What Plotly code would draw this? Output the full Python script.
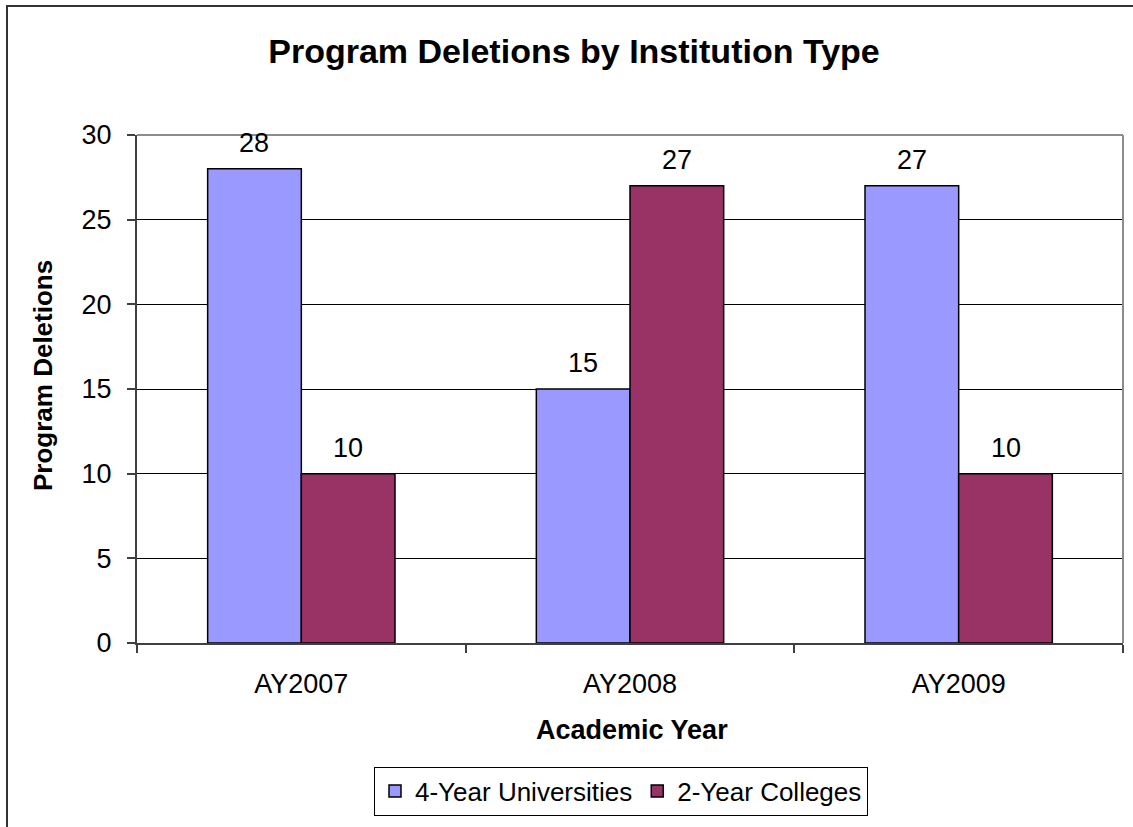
import plotly.graph_objects as go

years = ["AY2007", "AY2008", "AY2009"]
universities = [28, 15, 27]
colleges = [10, 27, 10]
series_names = ["4-Year Universities", "2-Year Colleges"]
y_ticks = [0, 5, 10, 15, 20, 25, 30]

W, H = 1133, 827
L, R, T, B = 137, 10, 135, 184
pw, ph = W - L - R, H - T - B
BARGAP = 0.43

def px_x(x):
    return (x - L) / pw

def px_y(y):
    return (H - B - y) / ph

FONT = "Liberation Sans, Arial, sans-serif"
colors = ["#9999FF", "#993366"]

fig = go.Figure()
for name, vals, col in zip(series_names, [universities, colleges], colors):
    fig.add_trace(go.Bar(
        x=years, y=vals, name=name,
        marker=dict(color=col, line=dict(color="#000000", width=1.5)),
        cliponaxis=False,
    ))

# data labels anchored on data coordinates
bar_w = pw / len(years) * (1 - BARGAP) / 2
for i, vals in enumerate([universities, colleges]):
    shift = (i - 0.5) * bar_w
    for yr, v in zip(years, vals):
        fig.add_annotation(x=yr, y=v, xref="x", yref="y", text=str(v),
                           showarrow=False, xshift=shift, yshift=26,
                           xanchor="center", yanchor="middle",
                           font=dict(size=27, family=FONT, color="#000000"))

fig.update_layout(
    width=W, height=H,
    margin=dict(l=L, r=R, t=T, b=B),
    paper_bgcolor="white", plot_bgcolor="white",
    barmode="group", bargap=BARGAP, bargroupgap=0,
    font=dict(family=FONT, size=27, color="#000000"),
    title=dict(text="<b>Program Deletions by Institution Type</b>",
               x=574 / W, xref="container", xanchor="center",
               y=1 - 51 / H, yref="container", yanchor="middle",
               font=dict(size=34, family=FONT, color="#000000")),
    showlegend=True,
    legend=dict(orientation="h", x=px_x(621), xanchor="center",
                y=px_y(791), yanchor="middle",
                bordercolor="#000000", borderwidth=1,
                font=dict(size=26, family=FONT, color="#000000"),
                itemwidth=30, tracegroupgap=0),
)

fig.update_xaxes(
    type="category", tickson="boundaries", ticks="outside", ticklen=8,
    tickcolor="#404040", tickwidth=1.5,
    showline=True, linecolor="#404040", linewidth=2,
    showgrid=False, tickfont=dict(size=27, family=FONT, color="#000000"),
    ticklabelstandoff=16,
)
fig.update_yaxes(
    range=[0, 30], tickvals=y_ticks, ticks="outside", ticklen=8,
    tickcolor="#404040", tickwidth=1.5,
    showline=True, linecolor="#404040", linewidth=2,
    showgrid=True, gridcolor="#000000", gridwidth=1, zeroline=False,
    tickfont=dict(size=27, family=FONT, color="#000000"), ticklabelstandoff=10,
)

# Plot-area border (grey) and outer chart border
fig.add_shape(type="line", xref="paper", yref="paper", x0=0, x1=1, y0=1, y1=1,
              line=dict(color="#8C8C8C", width=2), layer="above")
fig.add_shape(type="line", xref="paper", yref="paper", x0=1, x1=1, y0=0, y1=1,
              line=dict(color="#8C8C8C", width=2), layer="above")
fig.add_shape(type="rect", xref="paper", yref="paper",
              x0=px_x(7), x1=px_x(1145), y0=px_y(840), y1=px_y(6),
              line=dict(color="#333333", width=2), layer="above")

fig.add_annotation(text="<b>Academic Year</b>", xref="paper", yref="paper",
                   x=px_x(632), y=px_y(730), xanchor="center", yanchor="middle",
                   showarrow=False, font=dict(size=27, family=FONT, color="#000000"))
fig.add_annotation(text="<b>Program Deletions</b>", xref="paper", yref="paper",
                   x=px_x(43), y=px_y(376), xanchor="center", yanchor="middle",
                   textangle=-90, showarrow=False,
                   font=dict(size=26, family=FONT, color="#000000"))

fig.write_html("out.html", config={"displayModeBar": False},
               post_script="document.body.style.margin='0';document.body.style.overflow='hidden';")
